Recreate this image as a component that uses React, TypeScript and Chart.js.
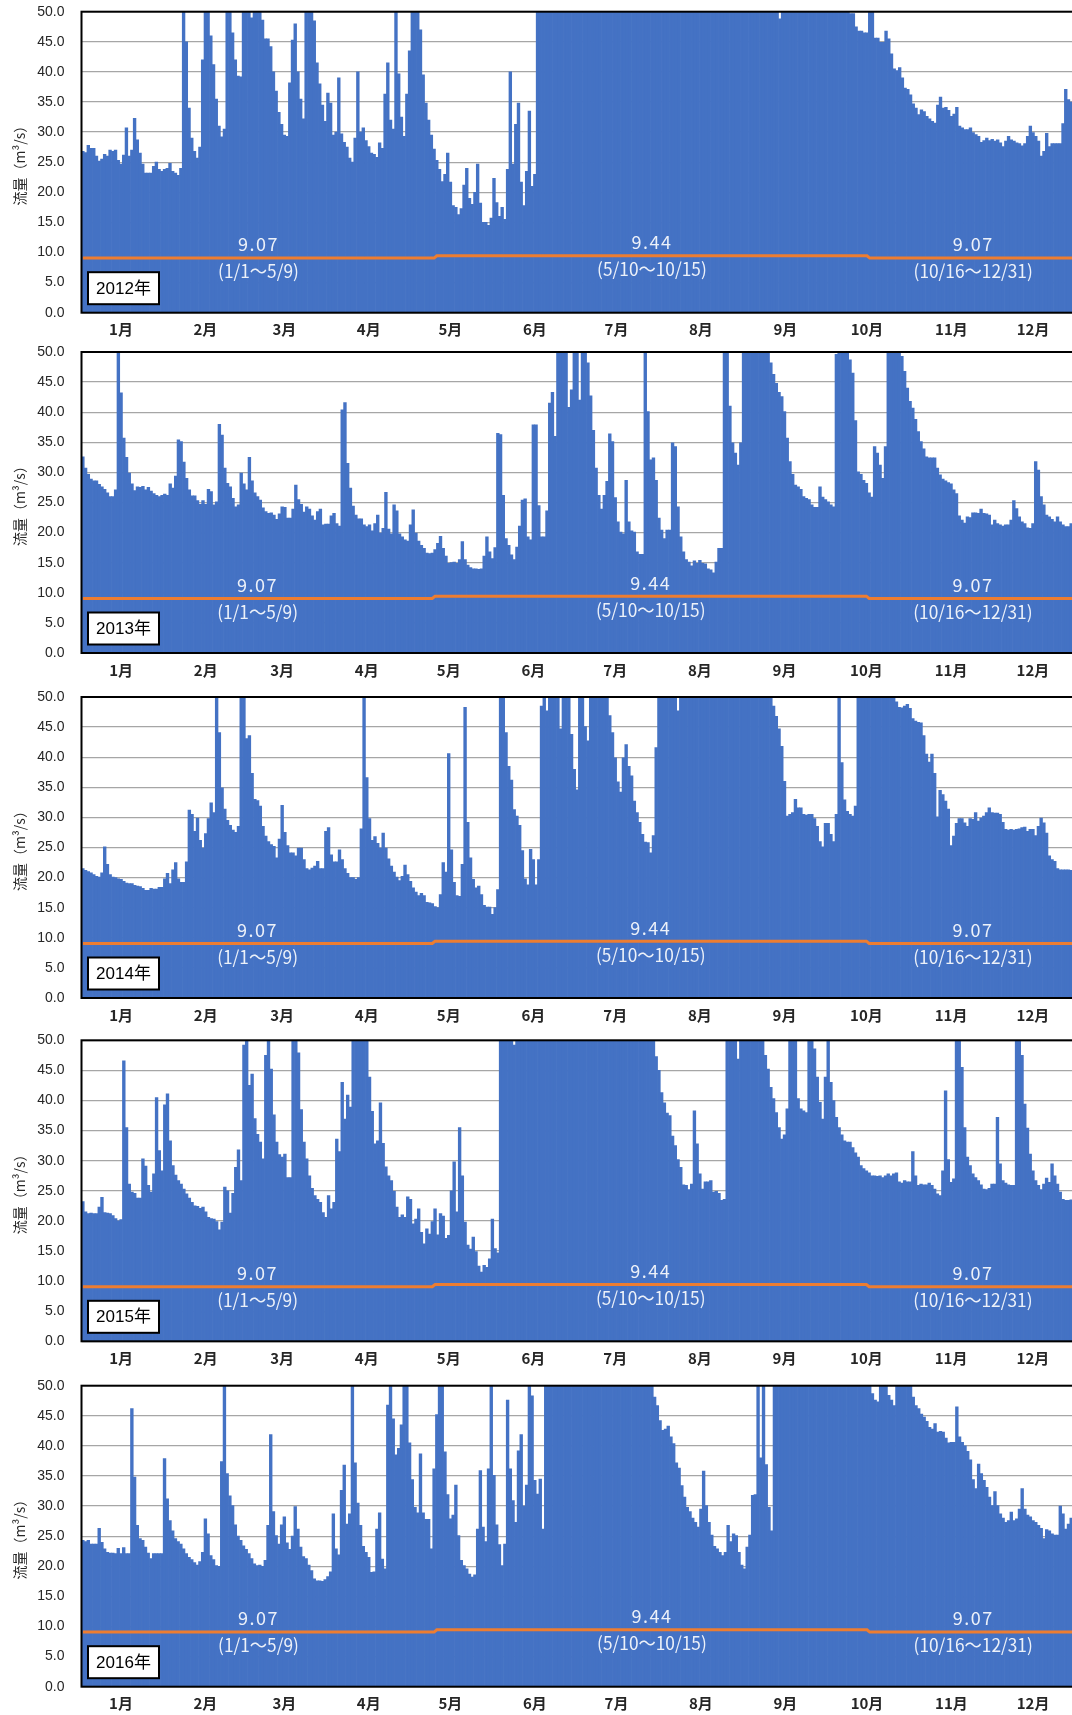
import React, { useEffect, useRef } from 'react';
import { Chart, registerables } from 'chart.js';

Chart.register(...registerables);

// ---------- labels ----------
const years = [2012, 2013, 2014, 2015, 2016];
const monthLabels = ['1月', '2月', '3月', '4月', '5月', '6月', '7月', '8月', '9月', '10月', '11月', '12月'];
const yAxisTitle = '流量（m³/s）';
const thresholdValues = [9.07, 9.44, 9.07];
const thresholdTexts = ['9.07', '9.44', '9.07'];
const periodTexts = ['(1/1～5/9)', '(5/10～10/15)', '(10/16～12/31)'];
const periodStartMonth = [1, 5, 10];
const periodStartDay = [1, 10, 16];

// ---------- daily flow (m3/s); values at the top of the axis are clipped at 50 ----------
const flow2012a = [
  26.8,26.6,27.8,27.3,27.3,26,25.2,25.5,26.3,26,
  27,26.8,27,25.3,24.7,26.2,30.7,26,27,32.3,
  28.7,26.5,24.7,23.2,23.2,23.2,24.3,25,23.8,23.5,
  23.8,24,24.8,23.5,23.2,22.8,24,50,45,34,
  29,26.8,25.7,27.5,42,50,50,46,41.2,35.5,
  31,29.2,30.5,50,50,46.5,42,39.3,39.2,50,
  50,50,49,50,50,50,48.6,45.5,45.5,44.2,
  40,36.8,33.3,31.3,29.5,29.3,38.2,45.3,48,40,
  35.5,32.2,50,50,50,48.5,41.5,38,34.5,31.8,
  36.5,34.8,29.5,30,39,29.7,28.3,27.5,25.7,25,
  29,40,30,30.7,28.6,27.6,26.5,26.3,25.8,28.2,
  27.3,36.3,41.5,32,30.5,50,39.7,32.5,29.3,36.3,
  43.5,50,50,50,47,39.5,34.8,32,29.5,27.2,
  25.3,23.8,21.8,23,26.5,21.7,17.8,17.5,16.3,17.3,
  21.2,24,19,18,20,24.7,18.2,15,15,14.5,
  15.7,22.3,18.3,16,17.5,15.5,23.8,40,24.7,31.3,
  34.8,21.7,17.8,23.5,33.5,21,23,
];
const flow2012b = [
  50,50,50,50,50,50,50,50,50,50,
  50,50,50,50,50,50,50,50,50,50,
  50,50,50,50,50,50,50,50,50,50,
  50,50,50,50,50,50,50,50,50,50,
  50,50,50,50,50,50,50,50,50,50,
  50,50,50,50,50,50,50,50,50,50,
  50,50,50,50,50,50,50,50,50,50,
  50,50,50,50,50,50,50,50,50,50,
  50,50,50,50,50,50,50,50,50,48.8,
  50,50,50,50,50,50,50,50,50,50,
  50,50,50,50,50,50,50,50,50,50,
  50,50,50,50,50,
];
const flow2012c = [
  49.7,49.7,47.5,46.8,46.8,46.5,46.5,50,50,45.6,
  45.6,44.9,44.9,46.8,45.5,43,40.5,40.2,40.7,39,37.3,
  37.1,36.2,34.7,34,32.9,33.7,33.4,32.6,32.2,31.8,
  31.5,34.5,35.8,34,34.1,33.6,32.6,33,34.1,31,
  30.7,30.4,30.4,30.7,29.9,29.6,29.3,28.3,28.6,29,
  28.6,28.8,28.5,28.7,28.2,27.6,28.5,29.3,28.7,28.5,
  28.2,28.1,27.7,28.1,29.3,31,29.9,29.3,28.5,26,
  26.8,29.8,27.6,28.1,28.1,28.1,28.1,31.4,37.1,35.4,
  35,36,35,
];

const flow2013a = [
  32.6,30.7,29.7,28.9,28.6,28.6,28,27.6,27.2,26.6,
  26,26,27.1,50,43.2,35.7,32.5,29.9,28.1,27,
  27.6,27.5,27.7,27.1,27.5,26.9,26.5,26.2,26,26.2,
  26.4,26.2,28.1,27.4,29.4,35.4,35.1,31.7,29,27.1,
  26.1,26.1,25.3,24.7,25.3,24.7,27.2,26.8,24.6,25.1,
  38,36.2,30.7,28.2,27.6,25.7,24.3,24.6,29.9,28.1,
  27.1,32.5,28.6,26.6,26,25.4,24.1,23.5,23.2,23.3,
  22.9,22.2,23.1,24.3,24.2,22.4,22.4,23.9,27.9,25.5,
  24.7,23.4,24.3,23.9,22.8,22.1,23.5,23.9,21.3,21.4,
  21.4,22.8,23.2,21.5,21.1,40.4,41.6,31.5,27.4,24.4,
  22.9,22.3,22.3,21.3,21,21.3,20.3,21.5,22.9,19.9,
  20.7,26.7,20.6,19.8,24.6,23.6,19.8,19.3,18.8,18.6,
  21.3,23.8,19.9,18.6,17.9,17.4,16.6,16.5,16.6,17.2,
  18.2,19.4,17.4,16.1,14.9,15,15.1,14.9,15.5,18.5,
  15.5,14.6,14.2,14,14,13.9,14,16.1,19.3,16.8,
  15.7,17.5,36.5,36.3,26.2,19,17.9,16.3,15.5,17.6,
  21.1,25.4,25.6,19.3,18.8,37.9,37.9,
];
const flow2013b = [
  24.5,19.3,19.3,23.6,41.5,43.3,36,50,50,50,
  50,40.8,43.7,50,50,42,50,50,48.2,42.7,
  37,30.7,26.2,23.9,26.2,28.5,36.4,35.1,25.8,21.8,
  20.1,19.8,28.7,21.8,20.3,20.1,16.8,16.4,16.4,50,
  40.1,32.1,32.4,28.7,22.4,20.4,19,20.4,20.4,34.9,
  34.3,24.3,19.3,16.8,15.5,15.1,14.5,15.3,14.9,15.4,
  14.9,14.8,14,13.8,13.3,15.1,17.4,17.4,50,50,
  41,34.9,33.2,31.2,34.9,50,50,50,50,50,
  50,50,50,50,50,48.2,46.3,44.8,43.3,42.6,
  40.1,35.7,31.8,29.7,27.9,27.6,27.2,26,25.7,25.5,
  24.6,24.2,24.2,27.6,25.9,25.5,25.1,24.6,24.3,49.6,
  50,50,50,50,48.7,46.5,38.6,30.1,29.7,28.7,
  28.2,26.6,25.9,34.3,33.2,31.2,29,34.3,50,50,
  50,50,50,49.3,46.8,44,41.8,40.7,38.8,36.8,
  35.1,33.9,32.6,32.4,32.4,32.4,30.7,29.6,28.9,28.6,
  28.3,28.1,27.1,26.5,22.8,22.1,21.6,22.6,22.5,23.3,
  23.3,23.2,23.9,23.2,23.1,22.9,21.3,22.1,21.5,21.3,
  21.1,21.3,21.3,22.1,25.3,24,22.6,21.8,21.5,20.8,
  20.7,21.5,31.8,30.4,26,24.6,22.9,22.6,22.2,21.8,
  22.6,21.8,21.3,21,21,21.5,22.5,23,
];

const flow2014a = [
  21.5,21.2,21,20.8,20.5,20.2,20.1,20.8,25.1,22.2,
  20.5,20.1,20,19.8,19.7,19.4,19.1,19,19,18.7,
  18.6,18.5,18.2,17.9,17.9,18.2,18.1,18.1,18.4,18.4,
  19.8,20.7,19,21.3,22.5,19.8,19.2,19.2,22.6,31.2,
  30.5,27.7,29.9,26.2,24.9,27.3,29.8,32.4,30.8,50,
  44.1,34.9,31.4,29.5,28.7,27.9,27.5,28.5,50,50,
  43.1,43.6,37.3,33,32.8,31.9,28.5,26.9,26,25.5,
  25.2,23.3,26.4,32,27.5,25.3,24.1,24.1,23.6,24.9,
  24.9,23,21.5,21.3,21.6,21.9,22.7,21.5,21.5,27.7,
  28.3,23.8,22.6,22.6,24.6,23,21.5,20.7,20,20,
  19.7,20,28.1,50,36.6,29.8,26.2,26.8,25.7,24.9,
  27.4,24.9,23.1,21.9,20.9,20.1,19.5,20.2,22.1,20.5,
  19.4,18.3,17.6,17,17.4,17,15.9,15.8,15.7,15.2,
  15,17.2,22.5,20.9,40.6,24.6,19.2,17,16.9,22.2,
  48.3,29.2,23.3,19.7,18.3,18.6,17.2,15.4,15.1,15.1,
  13.9,15,18,50,50,44.1,38.5,36.2,31.3,30.2,
  28.7,24.5,19.8,18.8,24.7,23,
];
const flow2014b = [
  18.8,23,48.5,50,47.7,50,50,50,50,44.7,
  50,50,50,43.8,38,34.6,50,50,45.1,42.7,
  50,50,50,50,50,50,50,46.9,44.1,39.9,
  35.9,34.2,39.9,42.1,38.5,36.9,32.7,30.8,29.2,27.2,
  25.9,25.8,24.1,27,41.6,
  50,50,50,50,50,50,50,47.7,50,50,
  50,50,50,50,50,50,50,50,50,50,
  50,50,50,50,50,50,50,50,50,50,
  50,50,50,50,50,50,50,50,50,50,
  50,50,
];
const flow2014c = [
  48.5,46.8,44.7,41.8,36,30.2,30.5,30.8,33,31.6,
  31.6,30.5,30.4,30.5,30.5,29.8,28.5,26,25.1,29,
  29,27.2,26,30.5,50,39.1,32.9,31,30.5,30.2,31.9,
  50,50,50,50,50,50,50,50,50,50,50,50,50,50,
  49.2,48.3,48.2,48.5,48.8,48.1,46.4,46,45.8,45.7,
  43.6,40.5,39.2,40.5,37.3,30.1,34.5,33.8,32.7,31.4,
  25.3,26.9,29,29.8,29.8,29.1,28.5,29.8,29.7,30.8,
  29.4,29.9,30.2,30.8,31.6,30.8,30.7,30.7,30.5,29.2,
  28,27.9,28,27.9,28,28.1,28.3,28.4,27.7,28,
  28,27,28.5,29.9,29.1,27.4,23.6,23,22.7,21.5,
  21.3,21.3,21.3,21.3,21.2,21.2,21.3,
];

const flow2015a = [
  23.2,21.5,21.2,21.3,21.2,21.2,22.3,23.9,21.4,21.3,
  21.2,20.9,20.4,20,20.2,46.6,35.5,26.1,24.8,24.6,
  23.8,23.8,30.3,29.1,25.9,24.8,27.8,40.5,31.7,28.3,
  39.3,41.1,33.3,29.2,27.6,26.7,26.1,25.3,24.5,23.8,
  23.1,22.5,22.4,22.1,22.3,21.5,20.6,20.4,20.3,19.9,
  18.5,19.8,25.6,25,21.3,24.6,28.9,31.8,26.7,49.2,
  50,42.5,44.4,37,34.4,33.1,30.3,47.5,50,45.2,
  37.6,33.1,31,30.6,31.1,27.2,27.2,50,50,47.9,
  38.5,33.1,30.3,27.5,25.4,24.2,23.6,23.1,21.4,20.6,
  24.2,22,23.1,33.6,31.5,43,36.9,40.9,38.9,50,
  50,50,50,50,50,43.9,38.2,32.8,33.3,39.6,
  32.9,29,27.5,26.7,24.9,22.3,20.6,21,20.6,24,
  23.6,19.5,20.3,22,18.1,16.2,18.7,17.8,19.9,22,
  17.7,21.2,20.8,17.1,17.6,25,29.8,21.5,35.5,27.5,
  19.8,16,15.3,17.3,14.9,12.5,11.5,12.6,12.3,13.7,
  20.3,15.4,14.7,
];
const flow2015b = [
  50,50,50,50,50,49.2,50,50,50,50,
  50,50,50,50,50,50,50,50,50,50,
  50,50,50,50,50,50,50,50,50,50,
  50,50,50,50,50,50,50,50,50,50,
  50,50,50,50,50,50,50,50,50,50,
  50,50,50,50,50,50,50,
  47.3,45,41.3,39.6,37.9,37.5,34.1,32.5,30.2,28.9,
  26,25.9,25.2,26.1,38.3,32.8,27.8,25.3,26.5,26.5,
  26.7,24.8,24.9,24.6,23.4,23.6,
  50,50,50,50,46.9,50,50,50,50,50,50,50,50,50,
];
const flow2015c = [
  47.5,45.2,42.2,40.3,38,35.5,33.6,34.3,38.6,50,
  50,50,40.3,38.6,38.3,38,50,50,48.6,43.9,
  39.7,36.9,43.9,50,43,40,37.2,35.5,34.3,33.3,
  33.1,33.1,32.2,31.3,30.6,29.2,28.7,28.3,28,27.5,
  27.5,27.4,27.5,27.2,27.5,27.8,27.5,27.8,28,26.5,
  26.3,26.7,26.5,26.5,31.5,27.5,25.9,26.1,26,26,
  26.3,25.9,25.3,24.5,24.2,28.3,41.6,30.2,26.4,27,
  50,50,45.5,35.5,30.6,29.2,27.8,27.2,26.7,26,
  25.3,25.2,25.4,26.1,26.1,37.2,29.5,26.7,26.3,26,
  25.9,25.9,50,50,47.5,39.4,35.4,31.1,28.3,26.7,
  25.9,25.2,26.1,27.1,26.4,29.5,27.5,26.1,24.8,23.6,
  23.4,23.4,23.5,23.8,24,
];

const flow2016a = [
  24.3,24.1,24.3,23.7,23.7,23.7,26.3,24,22.9,22.3,
  22.2,22.2,22.1,23,22.1,23.1,22.1,22.1,46.2,34.8,
  26.8,24.6,24.3,23.2,22.2,21.3,22.1,22.1,22.1,22.1,
  37.9,31.2,27.6,25.9,24.6,24.1,23.7,22.9,22.1,21.5,
  21.1,20.6,20.2,20.8,22.3,27.9,25.4,21.8,21.1,20.1,
  20,37.4,50,35.4,31.7,30.1,26.9,25,24.3,23.4,
  22.8,22.1,21.3,20.4,20.1,20.2,20,21,26.8,41.9,
  29.1,25.1,23.7,26.9,28.2,23.9,22.8,25,29.9,26.2,
  23.2,21.6,21.3,20.2,19.3,17.9,17.6,17.6,17.5,17.8,
  18.3,19.1,28.7,22.9,21.9,32.6,36.8,27,28.7,50,
  37.2,30.5,26.8,23.3,22.3,21.5,19,19.1,26.2,28.9,
  21.2,19.6,46.8,50,44.5,38.5,39.6,43.5,50,50,
  40.5,34.4,29.8,28.9,38.7,28.9,27.8,27.8,22.9,36.2,
  45.2,50,50,39,31.9,27.9,28.5,33.5,25.1,21,
  20.1,19.6,18.7,18.2,18.6,26.2,35.9,26.5,24.1,36.2,
  50,35.1,26.9,23.6,20.1,23.7,47.6,36.2,30.9,27.3,
  39.2,41.9,30,33.5,50,48.3,34.3,32,34.5,
];
const flow2016b = [
  26.2,
  50,50,50,50,50,50,50,50,50,50,
  50,50,50,50,50,50,50,50,50,50,
  50,50,50,50,50,50,50,50,50,50,
  50,50,50,50,50,50,50,50,50,50,
  48.1,46.7,44.2,42.6,42.8,43.3,41.5,40.4,37.2,36.3,
  33.4,31.5,29.8,29.1,28,27.3,26.5,29.5,35.8,30.1,
  27.3,25.2,23.3,22.9,22.3,21.8,22.3,26.8,24.1,25.4,
  25.1,22.3,20.2,19.6,23.2,25.2,31.8,31.9,50,38,
  50,36.9,29.8,25.9,
];
const flow2016c = [
  50,50,50,50,50,50,50,50,50,50,
  50,50,50,50,50,50,50,50,50,50,
  50,50,50,50,50,50,50,50,50,50,
  50,50,50,50,50,50,
  48.7,47.6,47.3,50,50,50,48.4,47.6,46.7,50,
  50,50,50,50,50,48.1,46.7,46.2,45.3,44.8,
  44.1,43.1,42.8,43.7,42.3,42.4,42.3,41.3,40.5,40.6,
  40.6,46.5,41.5,40.6,40,39.1,37.7,34.4,32.9,37,
  35.4,34.3,33.1,31.5,30.1,32.4,30.1,28.7,28,27.3,
  27.6,29,27.6,27.9,29.5,32.9,29.5,28.5,28.2,27.6,
  27.3,26.8,26.3,24.6,26.1,25.9,25.4,25.2,25.2,30,
  28.7,26.2,27,28,29.5,30,
];

const flowsByYear = [
  [...flow2012a, ...flow2012b, ...flow2012c],
  [...flow2013a, ...flow2013b],
  [...flow2014a, ...flow2014b, ...flow2014c],
  [...flow2015a, ...flow2015b, ...flow2015c],
  [...flow2016a, ...flow2016b, ...flow2016c],
];

// ---------- layout (not data) ----------
const PANEL_H = 343;
const CANVAS_W = 1078;
const PLOT_H = 301;
const panelTopPad = [11.7, 9, 11, 11.3, 13.7];
const AXIS_W = 81.5;

type DayInfo = { m: number; d: number };

function buildDates(year: number): DayInfo[] {
  const out: DayInfo[] = [];
  const dt = new Date(year, 0, 1);
  while (dt.getFullYear() === year) {
    out.push({ m: dt.getMonth() + 1, d: dt.getDate() });
    dt.setDate(dt.getDate() + 1);
  }
  return out;
}

function periodOf(day: DayInfo): number {
  let k = 0;
  for (let i = 0; i < periodStartMonth.length; i++) {
    if (day.m > periodStartMonth[i] || (day.m === periodStartMonth[i] && day.d >= periodStartDay[i])) k = i;
  }
  return k;
}

function drawText(ctx: any, text: string, cx: number, cy: number, sx: number, spacing: string) {
  ctx.save();
  ctx.translate(cx, cy);
  ctx.scale(sx, 1);
  if ('letterSpacing' in ctx) ctx.letterSpacing = spacing;
  ctx.fillText(text, 0, 0);
  ctx.restore();
}

function Panel({ year, flows, topPad }: { year: number; flows: number[]; topPad: number }) {
  const ref = useRef<HTMLCanvasElement | null>(null);

  useEffect(() => {
    if (!ref.current) return;
    const dates = buildDates(year);
    const labels = dates.map((d) => `${d.m}/${d.d}`);
    const periods = dates.map(periodOf);
    const threshold = periods.map((p) => thresholdValues[p]);
    const ranges = thresholdValues.map((_, i) => ({
      start: periods.indexOf(i),
      end: periods.lastIndexOf(i),
    }));
    const tickMap = new Map<number, string>();
    monthLabels.forEach((lab, i) => {
      const idx = dates.findIndex((d) => d.m === i + 1 && d.d === 15);
      tickMap.set(idx, lab);
    });

    const overlay = {
      id: 'overlay',
      afterDatasetsDraw(chart: any) {
        const { ctx, chartArea: a, scales } = chart;
        const x = scales.x;
        const y = scales.y;
        ctx.save();
        // threshold annotations
        ctx.fillStyle = 'rgba(255,255,255,0.9)';
        ctx.font = '18px "Noto Sans CJK JP", sans-serif';
        ctx.textAlign = 'center';
        ctx.textBaseline = 'middle';
        ranges.forEach((r, i) => {
          const cx = (x.getPixelForValue(r.start) + x.getPixelForValue(r.end)) / 2;
          const ly = y.getPixelForValue(thresholdValues[i]);
          drawText(ctx, thresholdTexts[i], cx, ly - 13.5, 1.0, '1.5px');
          drawText(ctx, periodTexts[i], cx, ly + 13.5, 0.96, '0px');
        });
        // plot border
        ctx.strokeStyle = '#000';
        ctx.lineWidth = 2;
        ctx.strokeRect(a.left, a.top, a.right - a.left, a.bottom - a.top);
        // year box
        const bw = 71;
        const bh = 32;
        const bx = a.left + 6.5;
        const by = a.bottom - 8.5 - bh;
        ctx.fillStyle = '#fff';
        ctx.fillRect(bx, by, bw, bh);
        ctx.lineWidth = 2;
        ctx.strokeRect(bx, by, bw, bh);
        ctx.fillStyle = '#000';
        ctx.font = '17px "Liberation Sans", Arial, "Noto Sans CJK JP", sans-serif';
        ctx.fillText(`${year}年`, bx + bw / 2, by + bh / 2 + 1);
        ctx.restore();
      },
    };

    const chart = new Chart(ref.current, {
      type: 'bar',
      data: {
        labels,
        datasets: [
          {
            type: 'line',
            data: threshold,
            borderColor: '#ED7D31',
            borderWidth: 3,
            pointRadius: 0,
            tension: 0,
            order: 0,
          } as any,
          {
            type: 'bar',
            data: flows,
            backgroundColor: '#4472C4',
            barPercentage: 1,
            categoryPercentage: 1,
            order: 1,
          },
        ],
      },
      options: {
        responsive: false,
        animation: false,
        events: [],
        layout: { padding: { top: topPad, left: 0, right: 0, bottom: 0 } },
        plugins: { legend: { display: false }, tooltip: { enabled: false } },
        scales: {
          x: {
            type: 'category',
            offset: true,
            grid: { display: false, drawTicks: false },
            border: { display: false },
            ticks: {
              autoSkip: false,
              maxRotation: 0,
              minRotation: 0,
              padding: 8,
              color: '#262626',
              font: { family: '"Noto Sans CJK JP", sans-serif', size: 15, weight: 'bold' },
              callback: (_v: any, i: number) => tickMap.get(i) ?? '',
            },
            afterFit: (s: any) => {
              s.height = PANEL_H - topPad - PLOT_H;
              s.paddingLeft = 0;
              s.paddingRight = 0;
            },
          },
          y: {
            min: 0,
            max: 50,
            ticks: {
              stepSize: 5,
              padding: 17,
              color: '#262626',
              font: { family: '"Liberation Sans", Arial, sans-serif', size: 14 },
              callback: (v: any) => Number(v).toFixed(1),
            },
            grid: { color: '#a6a6a6', lineWidth: 1.3, drawTicks: false },
            border: { display: false },
            title: {
              display: true,
              text: yAxisTitle,
              color: '#262626',
              font: { family: '"Noto Sans CJK JP", sans-serif', size: 14 },
              padding: { top: 11, bottom: 0 },
            },
            afterFit: (s: any) => {
              s.width = AXIS_W;
              s.paddingTop = 0;
              s.paddingBottom = 0;
            },
          },
        },
      } as any,
      plugins: [overlay],
    });
    return () => chart.destroy();
  }, [year, flows, topPad]);

  return (
    <canvas
      ref={ref}
      width={CANVAS_W}
      height={PANEL_H}
      style={{ display: 'block', width: CANVAS_W, height: PANEL_H }}
    />
  );
}

export default function App() {
  return (
    <div
      style={{
        position: 'absolute',
        left: 0,
        top: 0,
        width: 1072,
        height: 1715,
        overflow: 'hidden',
        background: '#fff',
      }}
    >
      {years.map((yr, i) => (
        <Panel key={yr} year={yr} flows={flowsByYear[i]} topPad={panelTopPad[i]} />
      ))}
    </div>
  );
}
